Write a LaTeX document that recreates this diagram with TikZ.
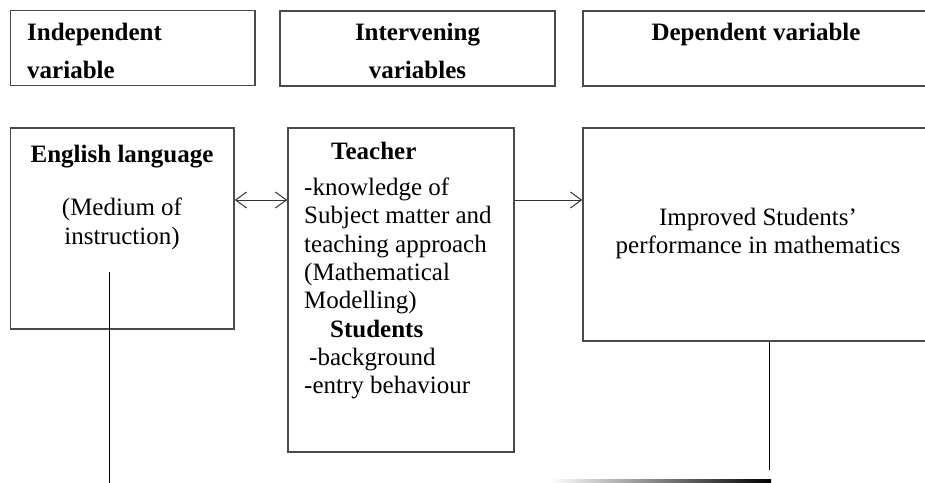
\documentclass[tikz,border=0pt]{standalone}
\usepackage{fontspec}
\setmainfont{Liberation Serif}
\usepackage{tikz}
\usetikzlibrary{arrows.meta}
\usetikzlibrary{calc}
\usepackage{xcolor}
\definecolor{boxline}{HTML}{4A4A4A}

\begin{document}
\begin{tikzpicture}[x=1pt,y=-1pt,
    box/.style={draw=boxline, line width=1.5pt, inner sep=0pt},
    hdtext/.style={inner sep=0pt, font=\bfseries\fontsize{25}{38}\selectfont},
    bodytext/.style={inner sep=0pt, font=\fontsize{25}{28.3}\selectfont},
    link/.style={draw=black!80, line width=1pt}]
  \useasboundingbox (0,0) rectangle (925,482);
  \clip (0,0) rectangle (925,482);

  % heading row
  \node[box, minimum width=244.3pt, minimum height=74.8pt](hIndep) at (132.85,48.1) {};
  \node[box, minimum width=275pt, minimum height=75pt](hInterv) at (417.5,48.3) {};
  \node[box, minimum width=347pt, minimum height=75pt](hDep) at (756.5,48.3) {};
  \node[hdtext, anchor=north west, align=left](tIndep) at (27,23) {Independent\\variable};
  \node[hdtext, anchor=north, align=center](tInterv) at (417.5,23) {Intervening\\variables};
  \node[hdtext, anchor=north](tDep) at (756,23) {Dependent variable};

  % variables
  \node[box, minimum width=223.3pt, minimum height=201pt](eng) at (122.35,228.5) {};
  \node[box, minimum width=226pt, minimum height=324pt](teach) at (401,290) {};
  \node[box, minimum width=347pt, minimum height=213pt](impr) at (756.5,234.5) {};

  \node[bodytext, font=\bfseries\fontsize{25}{28.3}\selectfont, anchor=north](tEng) at (122,145) {English language};
  \node[bodytext, anchor=north, align=center](tMed) at (122,198) {(Medium of\\instruction)};
  \node[bodytext, anchor=north west, align=left](tTeach) at (304,142)
    {\hspace*{27pt}\textbf{Teacher}\\[7.7pt]-knowledge of\\Subject matter and\\teaching approach\\(Mathematical\\Modelling)\\\hspace*{26pt}\textbf{Students}\\\hspace*{5pt}-background\\-entry behaviour};
  \node[bodytext, anchor=north, align=center](tImpr) at (758,208) {Improved Students’\\performance in mathematics};

  \draw[link, {Straight Barb[length=11pt,width=16pt]}-{Straight Barb[length=11pt,width=16pt]}]
    (eng.east |- 0,200) -- (teach.west |- 0,200);
  \draw[link, -{Straight Barb[length=11pt,width=16pt]}]
    (teach.east |- 0,200) -- (impr.west |- 0,200);

  % lines running off the page
  \coordinate (engstem) at (109,272);
  \coordinate (engfoot) at (109,483);
  \coordinate (imprfoot) at (769,470);
  \draw[line width=1pt] (engstem) -- (engfoot);
  \draw[line width=1pt] (impr.south -| imprfoot) -- (imprfoot);
  \shade[left color=white, right color=black] (550,479.5) rectangle (771,483);

\end{tikzpicture}
\end{document}
